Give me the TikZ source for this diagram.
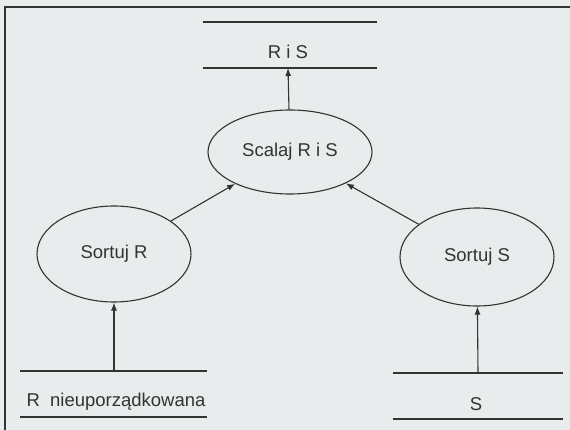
\documentclass[tikz,border=0pt]{standalone}
\usepackage{fontspec}
\setmainfont{Liberation Sans}
\usetikzlibrary{shapes.geometric,arrows.meta}
\definecolor{paper}{HTML}{E8ECEC}
\definecolor{ink}{HTML}{333333}

\begin{document}
\begin{tikzpicture}[x=1pt,y=-1pt,line width=1.1pt,draw=ink,text=ink,
	proc/.style={draw=ink,ellipse,inner sep=0pt,font=\fontsize{18.5}{22}\selectfont},
	store/.style={inner sep=0pt,font=\fontsize{18.5}{22}\selectfont},
	>={Latex[length=8pt,width=6pt]}]
	\fill[paper] (0,0) rectangle (570,430);
	\useasboundingbox (0,0) rectangle (570,430);
	\draw[line width=2pt] (5,430) -- (5,7) -- (570,7);
	% procesy
	\node[proc, minimum width=164pt, minimum height=84pt] (scal) at (290,152) {Scalaj R i S};
	\node[proc, minimum width=154pt, minimum height=96pt] (sortR) at (114,254) {Sortuj R};
	\node[proc, minimum width=154pt, minimum height=98pt] (sortS) at (477,257) {Sortuj S};
	% magazyny
	\node[store] (ris) at (288,52) {R i S};
	\draw (203,22) -- (377,22);
	\draw (203,68) -- (377,68);
	\coordinate (risIn) at (288,68);
	\node[store, anchor=west] (rn) at (26,402) {R\ \ nieuporządkowana};
	\draw (20,371) -- (207,371);
	\draw (20,417) -- (207,417);
	\coordinate (rnOut) at (114,371);
	\node[store] (s) at (476,404) {S};
	\draw (393,373) -- (563,373);
	\draw (393,419) -- (563,419);
	\coordinate (sOut) at (478,373);
	% przeplywy
	\draw[->] (rnOut) -- (sortR);
	\draw[->] (sOut) -- (sortS);
	\draw[->] (sortR) -- (scal);
	\draw[->] (sortS) -- (scal);
	\draw[->] (scal) -- (risIn);
\end{tikzpicture}
\end{document}
